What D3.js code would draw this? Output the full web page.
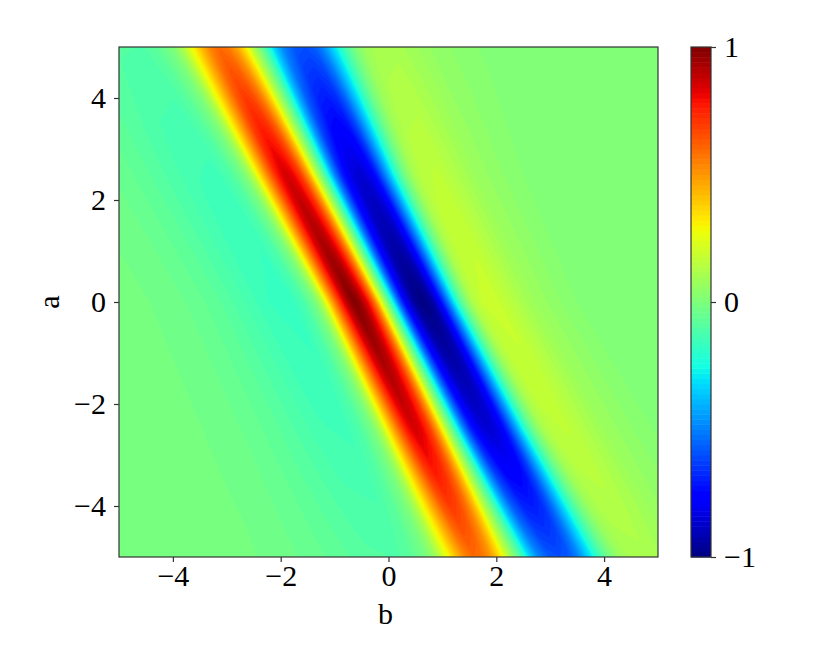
<!DOCTYPE html>
<html>
  <head>
    <meta charset="utf-8">
    <title>Heatmap D3</title>
    <style>
      body { margin: 0; background: #fff; }
      text { font-family: "Liberation Serif", "DejaVu Serif", serif; fill: #000; }
    </style>
  </head>
  <body>
    <script type="text/javascript" src="https://cdn.jsdelivr.net/npm/d3@7/dist/d3.min.js"></script>
    <script type="text/javascript">
    // profile across the band (s = offset from red/blue crossing, in b units), read at a = 0
    var profileS = [-7, -5, -4.5, -4, -3.5, -3, -2.5, -2, -1.75, -1.5, -1.35, -1.2, -1.0, -0.85, -0.7,
                    -0.55, -0.4, -0.25, -0.1, 0, 0.1, 0.25, 0.4, 0.6, 0.78, 0.95, 1.1, 1.3, 1.45,
                    1.6, 1.8, 2.0, 2.3, 2.6, 3.0, 3.5, 4, 5, 7];
    var profileV = [0, -0.02, -0.03, -0.05, -0.08, -0.12, -0.16, -0.17, -0.12, 0.0, 0.15, 0.4, 0.7, 0.9, 1.0,
                    0.95, 0.8, 0.55, 0.2, 0, -0.2, -0.55, -0.8, -0.97, -1.0, -0.95, -0.8, -0.5, -0.25,
                    -0.05, 0.12, 0.18, 0.19, 0.15, 0.09, 0.05, 0.02, 0.01, 0];

    // how the band moves, widens and fades along a
    var rowA      = [5, 2.5, 0, -2.5, -5];
    var rowCenter = [-2.4, -1.25, -0.03, 1.15, 2.35];
    var rowWidth  = [1.08, 0.95, 0.88, 0.95, 1.08];
    var rowAmp    = [0.6, 0.86, 1.0, 0.86, 0.6];

    var xTicks = [-4, -2, 0, 2, 4],
        yTicks = [-4, -2, 0, 2, 4],
        cbTicks = [-1, 0, 1];
    var nLevels = 100;

    var width = 830, height = 664,
        plot = { left: 119, top: 47, width: 539, height: 510 },
        cbar = { left: 691, top: 47, width: 20, height: 510 };

    // matplotlib "jet"
    var jetR = d3.scaleLinear().domain([0, 0.35, 0.66, 0.89, 1]).range([0, 0, 1, 1, 0.5]).clamp(true),
        jetG = d3.scaleLinear().domain([0, 0.125, 0.375, 0.64, 0.91, 1]).range([0, 0, 1, 1, 0, 0]).clamp(true),
        jetB = d3.scaleLinear().domain([0, 0.11, 0.34, 0.65, 1]).range([0.5, 1, 1, 0, 0]).clamp(true);
    function jet(t) {
      return d3.rgb(255 * jetR(t), 255 * jetG(t), 255 * jetB(t)).toString();
    }

    var x = d3.scaleLinear().domain([-5, 5]).range([plot.left, plot.left + plot.width]);
    var y = d3.scaleLinear().domain([-5, 5]).range([plot.top + plot.height, plot.top]);
    var cy = d3.scaleLinear().domain([-1, 1]).range([cbar.top + cbar.height, cbar.top]);
    var norm = d3.scaleLinear().domain([-1, 1]).range([0, 1]);

    var profile = d3.scaleLinear().domain(profileS).range(profileV).clamp(true),
        center = d3.scaleLinear().domain(rowA).range(rowCenter).clamp(true),
        spread = d3.scaleLinear().domain(rowA).range(rowWidth).clamp(true),
        amp = d3.scaleLinear().domain(rowA).range(rowAmp).clamp(true);

    var levels = d3.range(nLevels + 1).map(function(i) { return -1 + 2 * i / nLevels; });
    function bandColor(i) { return jet(norm((levels[i] + levels[i + 1]) / 2)); }

    // sample grid
    var nx = 270, ny = 255,
        cw = plot.width / nx, ch = plot.height / ny,
        values = new Float64Array(nx * ny);
    for (var j = 0; j < ny; j++) {
      var a = y.invert(plot.top + (j + 0.5) * ch);
      for (var i = 0; i < nx; i++) {
        var b = x.invert(plot.left + (i + 0.5) * cw);
        values[j * nx + i] = amp(a) * profile((b - center(a)) / spread(a));
      }
    }

    var svg = d3.select('body')
      .append('svg')
        .attr('width', width)
        .attr('height', height);

    svg.append('defs').append('clipPath').attr('id', 'clip')
      .append('rect')
        .attr('x', plot.left).attr('y', plot.top)
        .attr('width', plot.width).attr('height', plot.height);

    var field = svg.append('g').attr('clip-path', 'url(#clip)');
    field.append('rect')
      .attr('x', plot.left).attr('y', plot.top)
      .attr('width', plot.width).attr('height', plot.height)
      .attr('fill', bandColor(0));

    var contours = d3.contours()
      .size([nx, ny])
      .thresholds(levels.slice(1, nLevels))(values);

    var toPx = d3.geoTransform({
      point: function(px, py) { this.stream.point(plot.left + px * cw, plot.top + py * ch); }
    });
    var path = d3.geoPath(toPx);

    field.selectAll('path')
      .data(contours)
      .enter().append('path')
        .attr('d', path)
        .attr('fill', function(d, k) { return bandColor(k + 1); })
        .attr('stroke', function(d, k) { return bandColor(k + 1); })
        .attr('stroke-width', 0.3);

    // axes
    var fmt = d3.format('d');
    var xAxis = svg.append('g')
      .attr('transform', 'translate(0,' + (plot.top + plot.height) + ')')
      .call(d3.axisBottom(x).tickValues(xTicks).tickSize(5).tickPadding(3).tickFormat(fmt));
    var yAxis = svg.append('g')
      .attr('transform', 'translate(' + plot.left + ',0)')
      .call(d3.axisLeft(y).tickValues(yTicks).tickSize(5).tickPadding(8).tickFormat(fmt));
    [xAxis, yAxis].forEach(function(g) {
      g.select('.domain').remove();
      g.selectAll('line').attr('stroke', '#333').attr('stroke-width', 1.2);
      g.selectAll('text').style('font-size', '30px').attr('fill', '#000');
    });

    svg.append('rect')
      .attr('x', plot.left).attr('y', plot.top)
      .attr('width', plot.width).attr('height', plot.height)
      .attr('fill', 'none').attr('stroke', '#333').attr('stroke-width', 1.2);

    svg.append('text')
      .attr('x', x(0) - 3).attr('y', 624)
      .attr('text-anchor', 'middle')
      .style('font-size', '30px')
      .text('b');
    svg.append('text')
      .attr('transform', 'translate(59,' + y(0) + ') rotate(-90)')
      .attr('text-anchor', 'middle')
      .style('font-size', '30px')
      .text('a');

    // colorbar
    svg.append('g').selectAll('rect')
      .data(d3.range(nLevels))
      .enter().append('rect')
        .attr('x', cbar.left)
        .attr('y', function(k) { return cy(levels[k + 1]); })
        .attr('width', cbar.width)
        .attr('height', function(k) { return cy(levels[k]) - cy(levels[k + 1]) + 0.5; })
        .attr('fill', function(k) { return bandColor(k); });

    svg.append('rect')
      .attr('x', cbar.left).attr('y', cbar.top)
      .attr('width', cbar.width).attr('height', cbar.height)
      .attr('fill', 'none').attr('stroke', '#333').attr('stroke-width', 1.2);

    var cAxis = svg.append('g')
      .attr('transform', 'translate(' + (cbar.left + cbar.width) + ',0)')
      .call(d3.axisRight(cy).tickValues(cbTicks).tickSize(5).tickPadding(8).tickFormat(fmt));
    cAxis.select('.domain').remove();
    cAxis.selectAll('line').attr('stroke', '#333').attr('stroke-width', 1.2);
    cAxis.selectAll('text').style('font-size', '30px').attr('fill', '#000');
    </script>
  </body>
</html>
